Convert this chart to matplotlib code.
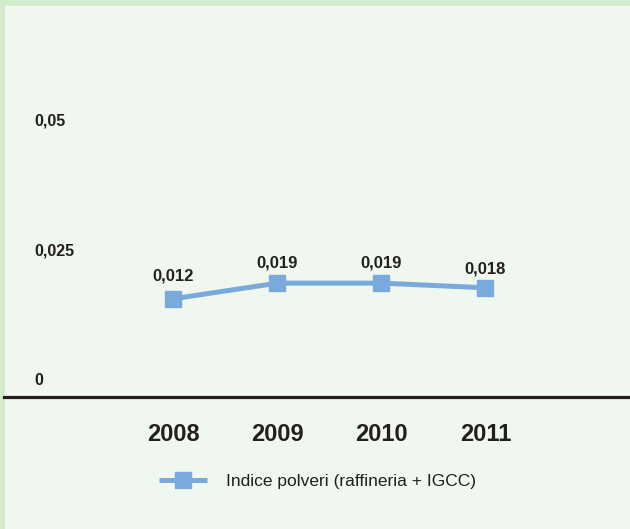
import numpy as np
import matplotlib.pyplot as plt
from matplotlib.patches import Rectangle

plt.rcParams['font.family'] = ['Liberation Sans', 'DejaVu Sans']

years = ['2008', '2009', '2010', '2011']
# marker heights as drawn in the picture, and the printed labels
values = [0.0158, 0.0188, 0.0188, 0.0179]
value_labels = ['0,012', '0,019', '0,019', '0,018']
yticks = [0, 0.025, 0.05]
ytick_labels = ['0', '0,025', '0,05']
series_name = 'Indice polveri (raffineria + IGCC)'

W, H = 630, 529
fig = plt.figure(figsize=(W / 100, H / 100), dpi=100)
fig.patch.set_facecolor('#d4eacc')
fig.add_artist(Rectangle((5 / W, 0), 1, 1 - 6 / H, transform=fig.transFigure,
                         facecolor='#f0f7ee', edgecolor='none', zorder=0))

ax = fig.add_axes([4 / W, (H - 397) / H, 626 / W, 391 / H])
ax.set_facecolor('none')

x = np.arange(len(years))
ax.plot(x, values, color='#7aaadc', lw=3.6, marker='s', markersize=12,
        label=series_name, solid_capstyle='butt')

offsets = [23, 20, 20, 19]
for xi, v, lab, off in zip(x, values, value_labels, offsets):
    ax.annotate(lab, (xi, v), xytext=(0, off * 0.72), textcoords='offset points',
                ha='center', va='center', fontsize=12, fontweight='bold',
                color='#231f20')

for v, lab in zip(yticks, ytick_labels):
    ax.text(30 / 626, v, lab, transform=ax.get_yaxis_transform(),
            ha='left', va='center', fontsize=11.5, fontweight='bold', color='#231f20')

ax.set_xlim(-1.63, 4.39)
ax.set_ylim(-0.0031, 0.0721)
ax.set_yticks([])
ax.set_xticks(x)
ax.set_xticklabels(years, fontsize=17, fontweight='bold', color='#231f20')
ax.tick_params(axis='x', length=0, pad=19)
for s in ['top', 'left', 'right']:
    ax.spines[s].set_visible(False)
ax.spines['bottom'].set_color('#231f20')
ax.spines['bottom'].set_linewidth(2.3)

leg = ax.legend(loc='center left', bbox_to_anchor=(143 / W, (H - 481) / H),
                bbox_transform=fig.transFigure, frameon=False, fontsize=12.5,
                handlelength=2.8, handletextpad=1.1)
for t in leg.get_texts():
    t.set_color('#231f20')

fig.savefig('out.png', dpi=100, facecolor=fig.get_facecolor())
